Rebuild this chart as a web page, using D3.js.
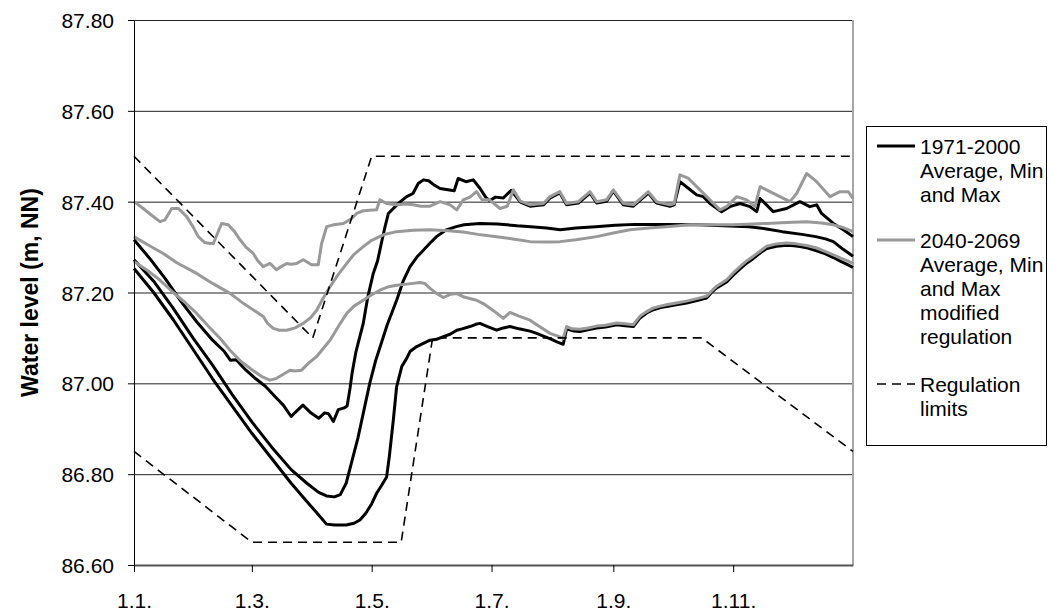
<!DOCTYPE html>
<html>
<head>
<meta charset="utf-8">
<script src="https://cdn.jsdelivr.net/npm/d3@7"></script>
<style>
  html, body { margin: 0; padding: 0; background: #fff; }
  svg { display: block; font-family: "Liberation Sans", Arial, sans-serif; }
</style>
</head>
<body>
<svg id="chart" width="1049" height="611"></svg>
<script>
// Day-of-year positions (leap-year calendar) of the month ticks and their labels
const tickDays = [0, 60, 121, 182, 244, 305];
const tickLabels = ["1.1.", "1.3.", "1.5.", "1.7.", "1.9.", "1.11."];
const yTicks = [86.6, 86.8, 87.0, 87.2, 87.4, 87.6, 87.8];

// 1971-2000 daily water levels: [day of year, m NN]
const refMax = [[0,87.316],[8,87.275],[16,87.23],[24,87.18],[32,87.135],[40,87.095],[46,87.07],[49,87.051],[52,87.052],[57,87.029],[62,87.01],[67,86.993],[72,86.97],[76,86.952],[80,86.927],[83,86.94],[86,86.952],[90,86.935],[94,86.923],[97,86.935],[99,86.933],[101.5,86.916],[104,86.942],[107,86.946],[108.5,86.95],[110,86.99],[111,87.022],[113,87.07],[116.7,87.132],[119,87.19],[121.8,87.242],[124,87.27],[126,87.31],[127.8,87.345],[129.5,87.374],[132,87.385],[135,87.398],[138.8,87.411],[142,87.418],[144.7,87.44],[147.3,87.448],[150,87.446],[153,87.436],[155.8,87.429],[159,87.427],[163,87.424],[165,87.451],[169,87.444],[172.7,87.448],[176,87.43],[179,87.41],[181,87.402],[184,87.41],[188,87.408],[192,87.425],[196.7,87.399],[201.6,87.39],[208.4,87.393],[211.8,87.408],[216.8,87.419],[220.2,87.393],[226.2,87.397],[232.1,87.419],[235.5,87.397],[240.6,87.401],[244,87.423],[249.1,87.393],[254.2,87.39],[261.8,87.419],[266,87.397],[272.8,87.39],[275,87.393],[277.9,87.444],[282,87.43],[286.4,87.415],[289.8,87.411],[293.2,87.396],[299.1,87.378],[303.3,87.389],[308.5,87.396],[313.6,87.389],[317,87.378],[318.7,87.407],[325.4,87.378],[332.2,87.385],[339,87.4],[344,87.389],[347.5,87.393],[350,87.374],[356,87.352],[361.1,87.338],[366,87.323]];
const refAvg = [[0,87.272],[10,87.225],[20,87.165],[30,87.1],[40,87.04],[50,86.975],[60,86.915],[70,86.86],[80,86.81],[88,86.78],[94,86.76],[98,86.752],[102,86.75],[105,86.755],[108,86.78],[111,86.83],[114,86.88],[117,86.94],[120,87.0],[123,87.05],[126,87.09],[129,87.13],[133.7,87.183],[137,87.225],[140.5,87.257],[144,87.278],[147.3,87.293],[151,87.31],[154,87.323],[159,87.338],[164,87.345],[168,87.349],[176,87.352],[185,87.351],[195,87.347],[202,87.345],[210,87.342],[217,87.338],[225,87.342],[235,87.345],[245,87.348],[255,87.35],[270,87.35],[288,87.349],[300,87.347],[313,87.345],[322,87.34],[330,87.334],[340,87.328],[347,87.323],[352,87.318],[356,87.312],[361,87.295],[366,87.28]];
const refMin = [[0,87.253],[10,87.2],[20,87.14],[30,87.075],[40,87.01],[50,86.95],[60,86.89],[70,86.835],[80,86.78],[88,86.74],[94,86.71],[98,86.69],[102,86.688],[108,86.688],[112,86.692],[115,86.699],[118,86.714],[121,86.735],[123.5,86.758],[126,86.775],[128.6,86.794],[130,86.84],[132,86.919],[133.7,86.993],[136.3,87.037],[138.8,87.055],[140.5,87.07],[143.9,87.081],[147.3,87.088],[150.7,87.095],[154,87.097],[157.5,87.103],[160.9,87.108],[164.3,87.117],[167,87.12],[171,87.125],[174,87.13],[176.1,87.132],[180,87.125],[184.6,87.117],[188,87.122],[191.4,87.125],[196,87.12],[201.6,87.115],[205,87.11],[208.4,87.104],[212,87.098],[215,87.092],[218.5,87.086],[220.2,87.12],[224,87.115],[227,87.114],[231,87.118],[235.5,87.122],[240,87.124],[245.7,87.129],[250,87.127],[254.2,87.125],[257.6,87.144],[261,87.155],[264.4,87.162],[268,87.167],[271.1,87.169],[276,87.173],[281.3,87.177],[286,87.182],[291.5,87.188],[294,87.2],[296.6,87.21],[301.7,87.223],[305,87.238],[308.5,87.252],[312,87.265],[315.3,87.275],[319,87.288],[322.1,87.297],[327,87.302],[332.2,87.304],[336,87.303],[339,87.301],[343,87.298],[347.5,87.292],[352,87.285],[356,87.277],[360,87.268],[363,87.262],[366,87.255]];

// 2040-2069 daily water levels under the modified regulation
const futMax = [[0,87.4],[4.7,87.385],[9,87.37],[13.2,87.356],[15.8,87.36],[19.2,87.385],[22.6,87.385],[26.8,87.367],[30,87.345],[32.7,87.323],[36,87.31],[38.7,87.308],[40.4,87.308],[42,87.325],[44.6,87.352],[48,87.349],[51,87.335],[54,87.316],[57,87.3],[60.7,87.286],[63,87.27],[65.8,87.257],[69.2,87.264],[72.6,87.25],[75,87.257],[77.7,87.264],[80,87.262],[82.8,87.264],[86.2,87.272],[90.4,87.261],[93.8,87.261],[95.5,87.308],[98.1,87.345],[101.5,87.349],[106.6,87.352],[110.8,87.363],[113.3,87.374],[116.7,87.38],[120,87.381],[123.5,87.382],[125.2,87.404],[128.6,87.396],[133.7,87.393],[138,87.395],[142.2,87.393],[146,87.39],[150.7,87.39],[155.8,87.4],[160.9,87.393],[164.3,87.382],[167.6,87.404],[171,87.41],[174.4,87.422],[177,87.405],[181,87.404],[186.3,87.385],[190,87.39],[193.1,87.426],[196.7,87.401],[201.6,87.393],[208.4,87.396],[211.8,87.411],[216.8,87.422],[220.2,87.396],[226.2,87.4],[232.1,87.422],[235.5,87.4],[240.6,87.404],[244,87.426],[249.1,87.396],[254.2,87.393],[261.8,87.422],[266,87.4],[272.8,87.393],[275,87.396],[277.9,87.459],[282,87.452],[288.1,87.426],[291.5,87.411],[298.3,87.382],[301.7,87.389],[306.8,87.411],[311.9,87.404],[316.1,87.389],[318.7,87.433],[323.7,87.422],[328.8,87.411],[333.9,87.4],[337.3,87.418],[342.4,87.462],[347.5,87.444],[354.3,87.411],[359.4,87.422],[363.6,87.422],[366,87.407]];
const futAvg = [[0,87.323],[7,87.305],[14.9,87.286],[22,87.265],[31.9,87.242],[40,87.22],[48.9,87.198],[56,87.175],[62,87.158],[65.8,87.147],[68,87.132],[70.9,87.121],[74,87.117],[77.7,87.117],[82,87.122],[86.2,87.132],[90,87.145],[93,87.161],[96,87.185],[99.8,87.213],[104,87.24],[108.3,87.264],[112,87.284],[116.7,87.301],[121,87.315],[126.9,87.327],[133.7,87.334],[142,87.337],[150.7,87.338],[160,87.336],[167.6,87.333],[175,87.328],[184.6,87.323],[193,87.318],[201.6,87.312],[210,87.311],[216.8,87.312],[225,87.316],[235.5,87.323],[244,87.331],[252.5,87.338],[262,87.342],[271,87.345],[283,87.349],[295,87.349],[305,87.349],[315,87.351],[322,87.352],[332,87.354],[342.4,87.356],[350,87.353],[356,87.349],[361,87.343],[366,87.334]];
const futMin = [[0,87.268],[8,87.245],[13,87.228],[20,87.2],[26,87.178],[31.9,87.154],[38,87.125],[44,87.098],[48.9,87.073],[54,87.05],[60,87.03],[65,87.015],[69.2,87.007],[72.6,87.011],[76,87.02],[79.4,87.029],[82,87.027],[85.3,87.029],[89,87.045],[93,87.059],[96,87.075],[99.8,87.095],[104,87.125],[108.3,87.154],[112,87.17],[116.7,87.183],[121,87.195],[125.2,87.205],[129,87.212],[133.7,87.216],[140,87.219],[145.6,87.222],[148,87.22],[150.7,87.209],[154,87.198],[157.5,87.189],[161,87.196],[164.3,87.198],[168,87.19],[174.4,87.183],[178,87.175],[183,87.16],[188,87.143],[191.4,87.156],[196,87.148],[201.6,87.139],[206,87.126],[211.8,87.11],[215,87.105],[218.5,87.099],[220.2,87.125],[223,87.12],[227,87.119],[231,87.122],[235.5,87.126],[240,87.128],[245.7,87.133],[250,87.131],[254.2,87.129],[257.6,87.148],[261,87.158],[264.4,87.166],[268,87.17],[271.1,87.173],[276,87.177],[281.3,87.181],[286,87.186],[291.5,87.192],[294,87.203],[296.6,87.214],[301.7,87.228],[305,87.243],[308.5,87.257],[312,87.27],[315.3,87.28],[319,87.292],[322.1,87.302],[327,87.307],[332.2,87.309],[336,87.308],[339,87.306],[343,87.303],[347.5,87.298],[352,87.29],[356,87.283],[360,87.275],[363,87.27],[366,87.264]];

// Regulation limits (upper and lower)
const regUpper = [[0,87.5],[91,87.1],[121,87.5],[366,87.5]];
const regLower = [[0,86.85],[60,86.65],[136,86.65],[152,87.1],[289,87.1],[366,86.85]];

const legendItems = [
  { lines: ["1971-2000", "Average, Min", "and Max"], color: "#000", width: 3, dash: null },
  { lines: ["2040-2069", "Average, Min", "and Max", "modified", "regulation"], color: "#999", width: 3, dash: null },
  { lines: ["Regulation", "limits"], color: "#000", width: 1.6, dash: "9,6" }
];

const svg = d3.select("#chart");
const plot = { left: 134, right: 853, top: 20, bottom: 565 };

const x = d3.scaleLinear().domain([0, 366]).range([plot.left, plot.right]);
const y = d3.scaleLinear().domain([86.6, 87.8]).range([plot.bottom, plot.top]);

svg.append("rect").attr("width", 1049).attr("height", 611).attr("fill", "#fff");

// horizontal gridlines
svg.append("g")
  .attr("transform", `translate(${plot.left},0)`)
  .call(d3.axisLeft(y).tickValues(yTicks.slice(1)).tickSize(-(plot.right - plot.left)).tickFormat(""))
  .call(g => g.select(".domain").remove())
  .call(g => g.selectAll(".tick line").attr("stroke", "#222").attr("stroke-width", 1));

// right border of the plot area
svg.append("line")
  .attr("x1", plot.right).attr("x2", plot.right)
  .attr("y1", plot.top).attr("y2", plot.bottom)
  .attr("stroke", "#a6a6a6").attr("stroke-width", 2);

const line = d3.line().x(d => x(d[0])).y(d => y(d[1]));

const series = [
  { data: refMax, color: "#000", width: 3 },
  { data: refAvg, color: "#000", width: 3 },
  { data: refMin, color: "#000", width: 3 },
  { data: futMax, color: "#999", width: 3 },
  { data: futAvg, color: "#999", width: 3 },
  { data: futMin, color: "#999", width: 3 },
  { data: regUpper, color: "#000", width: 1.6, dash: "9,6" },
  { data: regLower, color: "#000", width: 1.6, dash: "9,6" }
];

svg.append("g").selectAll("path").data(series).join("path")
  .attr("d", d => line(d.data))
  .attr("fill", "none")
  .attr("stroke", d => d.color)
  .attr("stroke-width", d => d.width)
  .attr("stroke-linejoin", "round")
  .attr("stroke-dasharray", d => d.dash || null);

// x axis
svg.append("g")
  .attr("transform", `translate(0,${plot.bottom})`)
  .call(d3.axisBottom(x).tickValues(tickDays).tickFormat((d, i) => tickLabels[i]).tickSize(7).tickSizeOuter(0))
  .call(g => g.select(".domain").attr("stroke", "#555").attr("stroke-width", 2))
  .call(g => g.selectAll(".tick line").attr("stroke", "#000"))
  .call(g => g.selectAll(".tick text").attr("y", 43).attr("dy", 0)
    .attr("font-size", 21).attr("fill", "#000").attr("font-family", "Liberation Sans, Arial, sans-serif"));

// y axis
svg.append("g")
  .attr("transform", `translate(${plot.left},0)`)
  .call(d3.axisLeft(y).tickValues(yTicks).tickFormat(d3.format(".2f")).tickSize(6).tickSizeOuter(0).tickPadding(14))
  .call(g => g.select(".domain").attr("stroke", "#000"))
  .call(g => g.selectAll(".tick text").attr("font-size", 21).attr("fill", "#000")
    .attr("font-family", "Liberation Sans, Arial, sans-serif").attr("dy", "0.36em"));

// y axis title
svg.append("text")
  .attr("transform", `translate(38,${(plot.top + plot.bottom) / 2}) rotate(-90)`)
  .attr("text-anchor", "middle")
  .attr("font-size", 23).attr("font-weight", "bold")
  .text("Water level (m, NN)");

// legend
const legend = svg.append("g");
legend.append("rect")
  .attr("x", 866.5).attr("y", 126.5).attr("width", 180).attr("height", 319)
  .attr("fill", "#fff").attr("stroke", "#000").attr("stroke-width", 1);

const lineH = 24;
const firstY = [146, 240, 384];
legendItems.forEach((item, i) => {
  const cy = firstY[i];
  legend.append("line")
    .attr("x1", 877).attr("x2", 915).attr("y1", cy).attr("y2", cy)
    .attr("stroke", item.color).attr("stroke-width", item.width)
    .attr("stroke-dasharray", item.dash);
  const t = legend.append("text").attr("font-size", 21).attr("fill", "#000");
  item.lines.forEach((s, k) => {
    t.append("tspan").attr("x", 920).attr("y", cy + k * lineH).attr("dy", "0.36em").text(s);
  });
});
</script>
</body>
</html>
